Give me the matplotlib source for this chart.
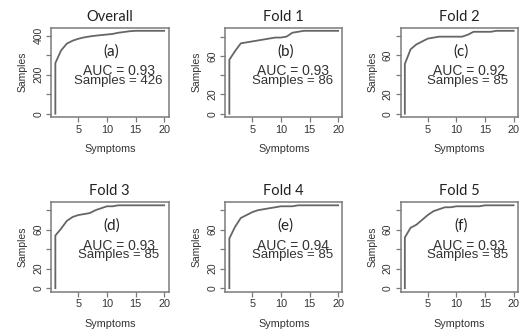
import matplotlib
matplotlib.use("Agg")
import matplotlib.pyplot as plt

symptoms = list(range(1, 21))
titles = ["Overall", "Fold 1", "Fold 2", "Fold 3", "Fold 4", "Fold 5"]
letters = ["(a)", "(b)", "(c)", "(d)", "(e)", "(f)"]
auc = ["0.93", "0.93", "0.92", "0.93", "0.94", "0.93"]
n_samples = [426, 86, 85, 85, 85, 85]

overall = [260, 325, 360, 375, 385, 392, 397, 401, 404, 407, 410, 416, 420, 424, 426, 426, 426, 426, 426, 426]
fold1 = [56, 65, 73, 74, 75, 76, 77, 78, 79, 79, 80, 84, 85, 86, 86, 86, 86, 86, 86, 86]
fold2 = [51, 66, 71, 74, 77, 78, 79, 79, 79, 79, 79, 81, 84, 84, 84, 84, 85, 85, 85, 85]
fold3 = [54, 61, 69, 73, 75, 76, 77, 80, 82, 84, 84, 85, 85, 85, 85, 85, 85, 85, 85, 85]
fold4 = [51, 63, 72, 75, 78, 80, 81, 82, 83, 84, 84, 84, 85, 85, 85, 85, 85, 85, 85, 85]
fold5 = [52, 62, 65, 70, 75, 79, 81, 83, 83, 84, 84, 84, 84, 84, 85, 85, 85, 85, 85, 85]
series = [overall, fold1, fold2, fold3, fold4, fold5]

xticks = [5, 10, 15, 20]
yticks_overall = [0, 100, 200, 300, 400]
ylabels_overall = ["0", "", "200", "", "400"]
yticks_fold = [0, 20, 40, 60, 80]
ylabels_fold = ["0", "20", "", "60", ""]

W, H = 521, 332
fig = plt.figure(figsize=(W / 100, H / 100), dpi=100)

col_left = [51, 225, 400.5]
row_bottom = [117, 291.5]
aw, ah = 117.5, 89.5

line_col = "#666666"
box_col = "#7a7a7a"
txt_col = "#333333"
sans = ["Liberation Sans", "DejaVu Sans"]
title_font = ["Lato", "DejaVu Sans"]

for i in range(6):
    r, c = divmod(i, 3)
    ax = fig.add_axes([col_left[c] / W, 1 - row_bottom[r] / H, aw / W, ah / H])
    vals = series[i]
    n = n_samples[i]
    ax.plot([symptoms[0]] + symptoms, [0] + vals, color=line_col, lw=1.3)
    ax.set_xlim(1 - 0.04 * 19, 20 + 0.04 * 19)
    ax.set_ylim(-0.04 * n, n * 1.04)
    ax.set_xticks(xticks)
    ax.set_xticklabels([str(t) for t in xticks], fontfamily=sans, fontsize=7.8, color=txt_col)
    if i == 0:
        ax.set_yticks(yticks_overall)
        ax.set_yticklabels(ylabels_overall, fontfamily=sans, fontsize=7.5, color=txt_col,
                           rotation=90, va="center")
    else:
        ax.set_yticks(yticks_fold)
        ax.set_yticklabels(ylabels_fold, fontfamily=sans, fontsize=7.5, color=txt_col,
                           rotation=90, va="center")
    ax.tick_params(direction="out", length=3.5, width=0.9, color=box_col, pad=2)
    for s in ax.spines.values():
        s.set_color(box_col)
        s.set_linewidth(1.1)
    ax.set_title(titles[i], fontfamily=title_font, fontsize=10.5, color="#222222", pad=5)
    ax.set_xlabel("Symptoms", fontfamily=sans, fontsize=7.8, color=txt_col, labelpad=7)
    ax.set_ylabel("Samples", fontfamily=sans, fontsize=7.5, color=txt_col, labelpad=4)
    ax.text(10.8, 0.755 * n, letters[i], fontfamily=title_font, fontsize=11,
            color="#222222", ha="center", va="center")
    ax.text(12.2, 0.51 * n, "AUC = " + auc[i], fontfamily=sans, fontsize=10,
            color=txt_col, ha="center", va="center")
    ax.text(12.0, 0.40 * n, "Samples = " + str(n), fontfamily=sans, fontsize=9.5,
            color=txt_col, ha="center", va="center")

fig.savefig("out.png", dpi=100)
